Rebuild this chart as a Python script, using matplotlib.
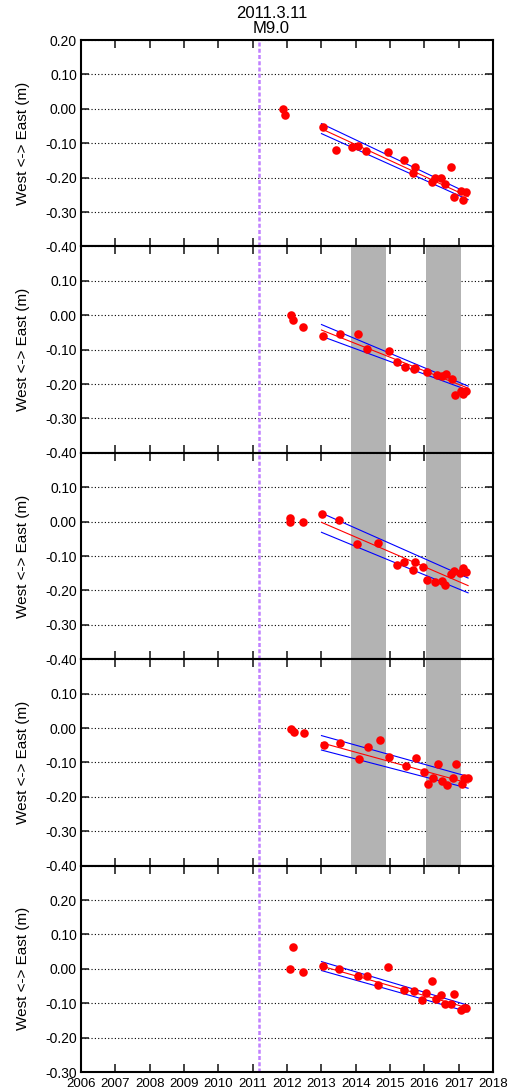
import numpy as np
import matplotlib
matplotlib.use('Agg')
import matplotlib.pyplot as plt

plt.rcParams['font.family'] = ['Liberation Sans', 'DejaVu Sans']

# DATA (year, east displacement in m) for five stations
t1 = [2011.89, 2011.94, 2013.05, 2013.42, 2013.89, 2014.06, 2014.31, 2014.94, 2015.40,
      2015.71, 2015.67, 2016.22, 2016.32, 2016.48, 2016.61, 2016.78, 2016.87, 2017.05,
      2017.12, 2017.21]
e1 = [0.000, -0.017, -0.054, -0.121, -0.110, -0.107, -0.122, -0.125, -0.148,
      -0.169, -0.186, -0.214, -0.202, -0.202, -0.218, -0.168, -0.257, -0.239,
      -0.264, -0.241]

t2 = [2012.10, 2012.18, 2012.47, 2013.05, 2013.54, 2014.06, 2014.34, 2014.96, 2015.21,
      2015.43, 2015.68, 2015.72, 2016.08, 2016.35, 2016.50, 2016.64, 2016.81, 2016.90,
      2017.07, 2017.13, 2017.22]
e2 = [0.001, -0.014, -0.034, -0.061, -0.054, -0.054, -0.099, -0.103, -0.135,
      -0.151, -0.157, -0.152, -0.166, -0.174, -0.178, -0.171, -0.184, -0.233,
      -0.221, -0.230, -0.221]

t3 = [2012.08, 2012.08, 2012.46, 2013.02, 2013.51, 2014.04, 2014.66, 2015.20, 2015.41,
      2015.66, 2015.71, 2015.95, 2016.06, 2016.32, 2016.50, 2016.61, 2016.77, 2016.87,
      2017.04, 2017.11, 2017.21]
e3 = [0.012, 0.000, -0.001, 0.023, 0.005, -0.065, -0.061, -0.127, -0.117,
      -0.142, -0.118, -0.132, -0.169, -0.176, -0.174, -0.185, -0.152, -0.143,
      -0.150, -0.136, -0.147]

t4 = [2012.11, 2012.20, 2012.49, 2013.07, 2013.55, 2014.09, 2014.36, 2014.70, 2014.98,
      2015.46, 2015.74, 2015.99, 2016.09, 2016.26, 2016.38, 2016.52, 2016.65, 2016.82,
      2016.92, 2017.09, 2017.15, 2017.26]
e4 = [-0.002, -0.012, -0.014, -0.050, -0.043, -0.091, -0.056, -0.034, -0.085,
      -0.111, -0.086, -0.128, -0.162, -0.146, -0.105, -0.154, -0.165, -0.146,
      -0.105, -0.164, -0.145, -0.146]

t5 = [2012.07, 2012.17, 2012.45, 2013.04, 2013.52, 2014.05, 2014.32, 2014.65, 2014.93,
      2015.41, 2015.70, 2015.94, 2016.04, 2016.21, 2016.33, 2016.48, 2016.60, 2016.78,
      2016.87, 2017.05, 2017.14, 2017.21]
e5 = [0.000, 0.064, -0.010, 0.008, 0.000, -0.021, -0.021, -0.047, 0.005,
      -0.063, -0.064, -0.091, -0.069, -0.035, -0.087, -0.076, -0.102, -0.101,
      -0.072, -0.119, -0.114, -0.114]

# trend line endpoints (red) and band (blue)
fit_t = [2013.0, 2017.27]
fit_mid = [[-0.058, -0.255], [-0.043, -0.212], [-0.002, -0.186], [-0.043, -0.160], [0.008, -0.114]]
fit_up = [[-0.043, -0.245], [-0.027, -0.206], [0.025, -0.164], [-0.022, -0.141], [0.021, -0.106]]
fit_lo = [[-0.072, -0.264], [-0.061, -0.218], [-0.031, -0.207], [-0.064, -0.175], [-0.005, -0.125]]

quake = 2011.19
bands = [(2013.86, 2014.88), (2016.05, 2017.07)]
band_panels = [1, 2, 3]
ylims = [(-0.4, 0.2)] * 4 + [(-0.3, 0.3)]
years = list(range(2006, 2019))

T = [t1, t2, t3, t4, t5]
E = [e1, e2, e3, e4, e5]

# PLOTTING
fig, axes = plt.subplots(5, 1, figsize=(5.1, 10.91), dpi=100)
plt.subplots_adjust(left=0.159, right=0.967, top=0.9633, bottom=0.0174, hspace=0)

for i, ax in enumerate(axes):
    ax.set_axisbelow(True)
    if i in band_panels:
        for b0, b1 in bands:
            ax.axvspan(b0, b1, color='#b3b3b3', lw=0, zorder=1)
    ax.axvline(quake, color='#c080ff', lw=1.8, linestyle=(0, (1.6, 0.9)), zorder=2)
    ax.plot(fit_t, fit_up[i], color='#0000ff', lw=0.8, zorder=3)
    ax.plot(fit_t, fit_lo[i], color='#0000ff', lw=0.8, zorder=3)
    ax.plot(fit_t, fit_mid[i], color='#ff0000', lw=0.8, zorder=3)
    ax.scatter(T[i], E[i], s=38, color='#ff0000', lw=0, zorder=4)

    lo, hi = ylims[i]
    ax.set_xlim(2006, 2018)
    ax.set_ylim(lo, hi)
    yt = np.round(np.arange(lo, hi + 0.001, 0.1), 2)
    ax.set_yticks(yt)
    labels = ['%.2f' % (v + 0.0) for v in yt]
    if i > 0:
        labels[-1] = ''
    ax.set_yticklabels(labels)
    ax.set_xticks(years)
    if i == 4:
        ax.set_xticklabels([str(y) for y in years])
    else:
        ax.set_xticklabels([])
    ax.tick_params(direction='in', top=True, right=True, length=6, width=1.2,
                   labelsize=10, pad=3, color='#222222')
    ax.tick_params(axis='x', labelsize=9.5, pad=4)
    ax.yaxis.grid(True, color='black', lw=0.8, linestyle=(0, (1, 2)))
    for s in ax.spines.values():
        s.set_linewidth(1.5)
    ax.set_ylabel('West <-> East (m)', fontsize=11)
    ax.yaxis.set_label_coords(-0.125, 0.5)

fig.text(0.532, 0.9668, '2011.3.11\nM9.0', ha='center', va='bottom', fontsize=12,
         linespacing=1.0)

plt.savefig('out.png', dpi=100)
